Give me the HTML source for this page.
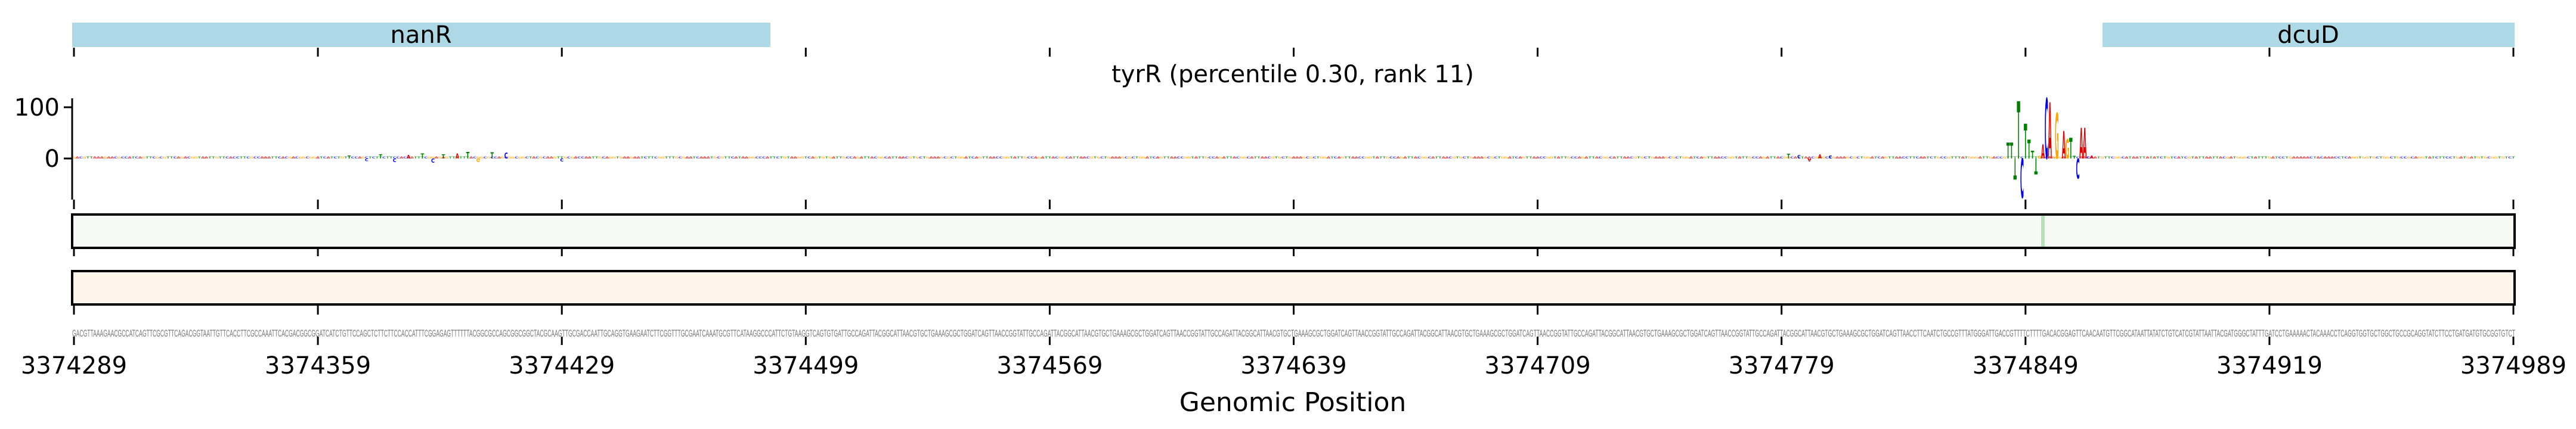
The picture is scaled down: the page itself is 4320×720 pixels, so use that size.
<!DOCTYPE html>
<html><head><meta charset="utf-8"><style>
html,body{margin:0;padding:0;background:#fff;}
svg{display:block;font-family:"DejaVu Sans","Liberation Sans",sans-serif;}
</style></head><body>
<svg id="chart" width="4320" height="720" viewBox="0 0 4320 720" xmlns="http://www.w3.org/2000/svg">
<g id="genes">
<rect x="121" y="38" width="1171" height="41" fill="#add8e6"/>
<text x="706" y="72" font-size="40" text-anchor="middle">nanR</text>
<rect x="3526" y="38" width="691" height="41" fill="#add8e6"/>
<text x="3871" y="72" font-size="40" text-anchor="middle">dcuD</text>
</g>
<text x="2168" y="138" font-size="40" text-anchor="middle">tyrR (percentile 0.30, rank 11)</text>
<g id="logo"></g>
<g id="yaxis"></g>
<rect x="121" y="360" width="4096" height="56" fill="#f5faf3" stroke="#000" stroke-width="4"/>
<g id="hl"></g>
<rect x="121" y="455" width="4096" height="56" fill="#fef4ea" stroke="#000" stroke-width="4"/>
<text id="seq" y="565" font-size="17" fill="#777" font-family="Liberation Sans Narrow, Liberation Sans, sans-serif"></text>
<g id="ticks"></g>
<text x="2168" y="690" font-size="44" text-anchor="middle">Genomic Position</text>
</svg>
<script>
const startPos = 3374289;
const endPos = 3374989;
const tickValues = [3374289,3374359,3374429,3374499,3374569,3374639,3374709,3374779,3374849,3374919,3374989];
const yTicks = [100, 0];
// notable logo columns: [offset from start, letter, value]
const logoOffsets = [555,556,557,558,559,560,561,562,563,564,565,566,567,568,569,571,572,573,574,575,576,577,578,579,
  88,92,96,100,103,106,110,113,116,120,124,79,84,140,492,495,498,501,504];
const logoLetters = ["T","T","T","T","C","T","T","T","T","G","A","C","A","G","G","A","G","T","T","C","A","A","C","A",
  "T","C","A","T","C","T","A","T","G","T","C","T","C","C","T","C","A","A","C"];
const logoValues = [31,31,-41,112,-77,68,37,15,-31,5,27,118,110,4,89,54,38,40,5,-39,60,60,4,6,
  8,-7,7,10,-8,8,10,13,-7,12,11,6,-5,-6,9,7,-6,8,6];
const highlightOffsets = [565];
const highlightValues = [0.35];

const NS="http://www.w3.org/2000/svg";
const x0=124, x1=4215, pxbp=(x1-x0)/(endPos-startPos);
const xs = p => x0 + (p-startPos)*pxbp;
const y0=266, pxv=0.86;
const ys = v => y0 - v*pxv;
const colors={A:"#e00000",C:"#0000ee",G:"#ffa500",T:"#008000"};

const seqA="GACGTTAAAGAACGCCATCAGTTCGCGTTCAGACGGTAATTGTTCACCTTCGCCAAATTCACGACGGCGGATCATCTGTTCCAGCTCTTCTTCCACCATTTCGGAGAGTTTTTTACGGCGCCAGCGGCGGCTACGCAAGTTGCGACCAATTGCAGGTGAAGAATCTTCGGTTTGCGAATCAAATGCGTTCATAAGGCCCATTCTGTAAGGTCAGTGTGA";
const seqB="TTCAATCTGCCGTTTATGGGATTGACCGTTTTCTTTTGACACGGAGTTCAACAATGTTCGGCATAATTATATCTGTCATCGTATTAATTACGATGGGCTATTTGATCCTGAAAAACTACAAACCTCAGGTGGTGCTGGCTGCCGCAGGTATCTTCCTGATGATGTGCGGTGTCT";
const n=endPos-startPos+1;
let mid="";const filler="TTGCCAGATTACGGCATTAACGTGCTGAAAGCGCTGGATCAGTTAACCGGTA";
while(mid.length<n-seqA.length-seqB.length) mid+=filler;
const seq=(seqA+mid).slice(0,n-seqB.length)+seqB;
const st=document.getElementById('seq');
st.textContent=seq;
st.setAttribute('x',x0-3);
st.setAttribute('textLength',(x1-x0)+6);
st.setAttribute('lengthAdjust','spacingAndGlyphs');

const logo=document.getElementById('logo');
function letter(px,val,ch,op){
  const t=document.createElementNS(NS,'text');
  
  
  t.textContent=ch;
  t.setAttribute('font-size','100');
  t.setAttribute('font-weight','bold');
  t.setAttribute('text-anchor','middle');
  t.setAttribute('fill',colors[ch]);
  if(op) t.setAttribute('opacity',op);
  const h=Math.abs(val)*pxv, w=pxbp*0.95;
  const sx=w/68, sy=h/73;
  const sgn=val>=0?1:-1;
  t.setAttribute('transform',`translate(${px},${y0}) scale(${sx},${sgn*sy})`);
  logo.appendChild(t);
}
for(let i=0;i<n;i++){ letter(xs(startPos+i),4,seq[i],0.75); }
for(let i=0;i<logoOffsets.length;i++){ letter(xs(startPos+logoOffsets[i]),logoValues[i],logoLetters[i]); }

const ya=document.getElementById('yaxis');
const sp=document.createElementNS(NS,'line');

sp.setAttribute('x1',121);sp.setAttribute('x2',121);sp.setAttribute('y1',165);sp.setAttribute('y2',335);
sp.setAttribute('stroke','#000');sp.setAttribute('stroke-width','3');ya.appendChild(sp);
yTicks.forEach(v=>{
  const l=document.createElementNS(NS,'line');
  
  l.setAttribute('x1',107);l.setAttribute('x2',121);l.setAttribute('y1',ys(v));l.setAttribute('y2',ys(v));
  l.setAttribute('stroke','#000');l.setAttribute('stroke-width','3');ya.appendChild(l);
  const t=document.createElementNS(NS,'text');
  
  t.setAttribute('x',100);t.setAttribute('y',ys(v)+14);t.setAttribute('font-size','40');t.setAttribute('text-anchor','end');
  t.textContent=v;ya.appendChild(t);
});

const hl=document.getElementById('hl');
highlightOffsets.forEach((o,i)=>{
  const r=document.createElementNS(NS,'rect');
  
  r.setAttribute('x',xs(startPos+o)-3);r.setAttribute('width',6);r.setAttribute('y',362);r.setAttribute('height',52);
  r.setAttribute('fill','#4caf50');r.setAttribute('opacity',highlightValues[i]);hl.appendChild(r);
});

const tk=document.getElementById('ticks');
const rows=[[80,95],[335,351],[416,430],[513,528],[565,579]];
tickValues.forEach(v=>{
  rows.forEach(r=>{
    const l=document.createElementNS(NS,'line');
    
    l.setAttribute('x1',xs(v));l.setAttribute('x2',xs(v));l.setAttribute('y1',r[0]);l.setAttribute('y2',r[1]);
    l.setAttribute('stroke','#000');l.setAttribute('stroke-width','3');tk.appendChild(l);
  });
  const t=document.createElementNS(NS,'text');
  
  t.setAttribute('x',xs(v));t.setAttribute('y',627);t.setAttribute('font-size','40');t.setAttribute('text-anchor','middle');
  t.textContent=v;tk.appendChild(t);
});
</script>
</body></html>
